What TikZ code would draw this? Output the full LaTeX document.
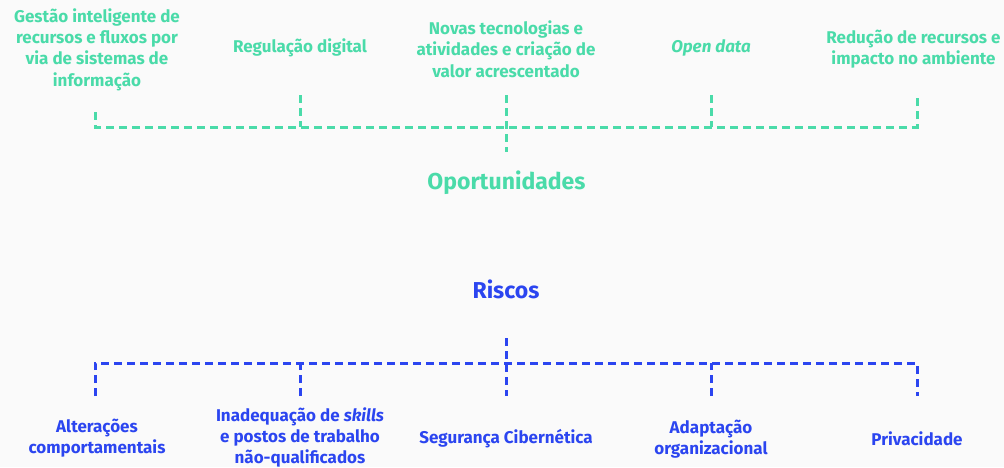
\documentclass[tikz,border=0pt]{standalone}
\usepackage{fontspec}
\setmainfont{Fira Sans}
\usetikzlibrary{positioning}
\definecolor{verde}{HTML}{4ADBA9}
\definecolor{azul}{HTML}{2B45F0}
\definecolor{fundo}{HTML}{FAFAFA}

\begin{document}
\begin{tikzpicture}[x=1pt,y=-1pt,semithick]
  \tikzstyle{ramo}=[dash pattern=on 8pt off 5pt,line width=3pt]
  \tikzstyle{rotulo}=[align=center,inner sep=0pt,
                      font=\bfseries\fontsize{17}{21.4}\selectfont]
  \tikzstyle{titulo}=[inner sep=0pt,anchor=base,
                      font=\bfseries\fontsize{23}{26}\selectfont]

  \fill[fundo] (0,0) rectangle (1004,467);
  \useasboundingbox (0,0) rectangle (1004,467);

  % oportunidades
  \node[rotulo,text=verde] (o1) at (97,49.5)
    {Gestão inteligente de\\recursos e fluxos por\\via de sistemas de\\informação};
  \node[rotulo,text=verde] (o2) at (300,48) {Regulação digital};
  \node[rotulo,text=verde] (o3) at (506,49)
    {Novas tecnologias e\\atividades e criação de\\valor acrescentado};
  \node[rotulo,text=verde] (o4) at (711,48) {\itshape Open data};
  \node[rotulo,text=verde] (o5) at (913.5,49)
    {Redução de recursos e\\impacto no ambiente};
  \node[titulo,text=verde] (opor) at (506.5,189) {Oportunidades};

  \coordinate (ta1) at (95,112);
  \coordinate (ta2) at (300,95);
  \coordinate (ta3) at (506,95);
  \coordinate (ta4) at (711,95);
  \coordinate (ta5) at (917,95);
  \coordinate (tb1) at (95,127);
  \coordinate (tb2) at (300,127);
  \coordinate (tb3) at (506,127);
  \coordinate (tb4) at (711,127);
  \coordinate (tb5) at (917,127);
  \coordinate (tc) at (506,152);

  \draw[ramo,verde] (ta1) -- (tb1) -- (tb5) -- (ta5)
                    (ta2) -- (tb2)
                    (ta3) -- (tc)
                    (ta4) -- (tb4);

  % riscos
  \node[titulo,text=azul] (risc) at (506,298) {Riscos};
  \node[rotulo,text=azul] (r1) at (97,438)
    {Alterações\\comportamentais};
  \node[rotulo,text=azul] (r2) at (300,437.5)
    {Inadequação de \textit{skills}\\e postos de trabalho\\não-qualificados};
  \node[rotulo,text=azul] (r3) at (506,439) {Segurança Cibernética};
  \node[rotulo,text=azul] (r4) at (711,439)
    {Adaptação\\organizacional};
  \node[rotulo,text=azul] (r5) at (917,439) {Privacidade};

  \coordinate (bc) at (506,338);
  \coordinate (bb1) at (95,363);
  \coordinate (bb2) at (300,363);
  \coordinate (bb3) at (506,363);
  \coordinate (bb4) at (711,363);
  \coordinate (bb5) at (917,363);
  \coordinate (ba1) at (95,396);
  \coordinate (ba2) at (300,396);
  \coordinate (ba3) at (506,396);
  \coordinate (ba4) at (711,396);
  \coordinate (ba5) at (917,396);

  \draw[ramo,azul] (ba1) -- (bb1) -- (bb5) -- (ba5)
                   (ba2) -- (bb2)
                   (bc) -- (ba3)
                   (ba4) -- (bb4);
\end{tikzpicture}
\end{document}
